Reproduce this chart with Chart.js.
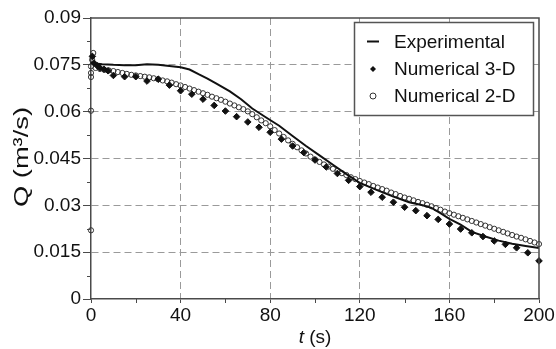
<!DOCTYPE html>
<html>
<head>
<meta charset="utf-8">
<script src="https://cdn.jsdelivr.net/npm/chart.js@4"></script>
<style>
html, body { margin: 0; padding: 0; background: #fff; }
</style>
</head>
<body>
<canvas id="chart" width="556" height="349"></canvas>
<script>
// axis ticks
const xTicks = [0, 40, 80, 120, 160, 200];
const xTickLabels = ['0', '40', '80', '120', '160', '200'];
const yTicks = [0, 0.015, 0.03, 0.045, 0.06, 0.075, 0.09];
const yTickLabels = ['0', '0.015', '0.03', '0.045', '0.06', '0.075', '0.09'];
const xMinor = [20, 60, 100, 140, 180];
const yMinor = [0.0075, 0.0225, 0.0375, 0.0525, 0.0675, 0.0825];

// Experimental (solid line)
const expT = [0, 5, 10, 15, 20, 25, 30, 35, 40, 44, 48, 52, 56, 62, 67, 72, 78, 84, 90, 96,
  102, 108, 114, 120, 128, 135, 142, 148, 152, 156, 160, 165, 170, 176, 182, 188, 194, 200];
const expQ = [0.0756, 0.0752, 0.0750, 0.0749, 0.0749, 0.0752, 0.0750, 0.0746, 0.0742, 0.0735,
  0.0720, 0.0706, 0.0690, 0.0665, 0.0640, 0.0610, 0.0582, 0.0555, 0.0522, 0.0490,
  0.0460, 0.0430, 0.0400, 0.0372, 0.0348, 0.0328, 0.0310, 0.0300, 0.0292, 0.0275,
  0.0257, 0.0238, 0.0215, 0.0200, 0.0187, 0.0177, 0.0170, 0.0163];

// Numerical 3-D (filled diamonds)
const d3T = [0.6, 1.3, 2.8, 4, 5.8, 7.6, 10, 15, 20, 25, 30, 35, 40, 45, 50, 55, 60, 65, 70, 75,
  80, 85, 90, 95, 100, 105, 110, 115, 120, 125, 130, 135, 140, 145, 150, 155, 160, 165,
  170, 175, 180, 185, 190, 195, 200];
const d3Q = [0.0777, 0.0756, 0.0747, 0.0740, 0.0736, 0.0731, 0.0716, 0.0712, 0.0712, 0.0698,
  0.0704, 0.0685, 0.0667, 0.0656, 0.0640, 0.0620, 0.0602, 0.0584, 0.0567, 0.0550,
  0.0534, 0.0512, 0.0490, 0.0469, 0.0445, 0.0423, 0.0402, 0.0380, 0.0360, 0.0342,
  0.0326, 0.0310, 0.0294, 0.0283, 0.0267, 0.0255, 0.0240, 0.0224, 0.0212, 0.0200,
  0.0186, 0.0175, 0.0164, 0.0148, 0.0122];

// Numerical 2-D (open circles)
const d2T = [0, 0, 0, 0.5, 1, 0, 0,
  2, 4, 6, 8, 10, 12, 14, 16, 18, 20, 22, 24, 26, 28, 30, 32, 34, 36, 38, 40,
  42, 44, 46, 48, 50, 52, 54, 56, 58, 60, 62, 64, 66, 68, 70, 72, 74, 76, 78, 80,
  82, 84, 86, 88, 90, 92, 94, 96, 98, 100, 102, 104, 106, 108, 110, 112, 114, 116, 118, 120,
  122, 124, 126, 128, 130, 132, 134, 136, 138, 140, 142, 144, 146, 148, 150, 152, 154, 156, 158, 160,
  162, 164, 166, 168, 170, 172, 174, 176, 178, 180, 182, 184, 186, 188, 190, 192, 194, 196, 198, 200];
const d2Q = [0.0745, 0.0724, 0.0711, 0.0766, 0.0788, 0.0603, 0.0220,
  0.0740, 0.0737, 0.0734, 0.0732, 0.0730, 0.0727, 0.0724, 0.0721, 0.0718, 0.0716,
  0.0714, 0.0712, 0.0710, 0.0707, 0.0704, 0.0700, 0.0697, 0.0693, 0.0688, 0.0684,
  0.0679, 0.0674, 0.0669, 0.0664, 0.0659, 0.0654, 0.0648, 0.0643, 0.0638, 0.0632,
  0.0626, 0.0620, 0.0614, 0.0608, 0.0601, 0.0592, 0.0582, 0.0572, 0.0563, 0.0553,
  0.0541, 0.0530, 0.0519, 0.0508, 0.0497, 0.0486, 0.0476, 0.0466, 0.0456, 0.0447,
  0.0439, 0.0431, 0.0424, 0.0417, 0.0410, 0.0403, 0.0397, 0.0390, 0.0384, 0.0378,
  0.0373, 0.0368, 0.0362, 0.0357, 0.0352, 0.0347, 0.0341, 0.0336, 0.0330, 0.0325,
  0.0321, 0.0316, 0.0311, 0.0307, 0.0302, 0.0297, 0.0291, 0.0286, 0.0280, 0.0275,
  0.0270, 0.0265, 0.0260, 0.0255, 0.0250, 0.0245, 0.0240, 0.0235, 0.0230, 0.0225,
  0.0220, 0.0215, 0.0210, 0.0205, 0.0200, 0.0196, 0.0191, 0.0186, 0.0181, 0.0176];

const legendLabels = ['Experimental', 'Numerical 3-D', 'Numerical 2-D'];

const FONT = "'Liberation Sans', Arial, sans-serif";
const AXIS = '#4a4a4a';
const TEXT = '#111';

function pairs(ts, qs) {
  return ts.map((t, i) => ({ x: t, y: qs[i] }));
}

// frame, minor ticks, legend box and axis titles
const decorations = {
  id: 'decorations',
  afterDraw(chart) {
    const ctx = chart.ctx;
    const a = chart.chartArea;
    const xs = chart.scales.x;
    const ys = chart.scales.y;
    ctx.save();

    // top and right border
    ctx.strokeStyle = AXIS;
    ctx.lineWidth = 1.5;
    ctx.beginPath();
    ctx.moveTo(a.left, a.top);
    ctx.lineTo(a.right, a.top);
    ctx.lineTo(a.right, a.bottom);
    ctx.stroke();

    // minor ticks
    ctx.lineWidth = 1;
    ctx.beginPath();
    xMinor.forEach(v => {
      const px = Math.round(xs.getPixelForValue(v)) + 0.5;
      ctx.moveTo(px, a.bottom);
      ctx.lineTo(px, a.bottom + 4);
    });
    yMinor.forEach(v => {
      const py = Math.round(ys.getPixelForValue(v)) + 0.5;
      ctx.moveTo(a.left - 4, py);
      ctx.lineTo(a.left, py);
    });
    ctx.stroke();

    // legend
    const bx = 354.5, by = 22.5, bw = 179, bh = 93;
    ctx.fillStyle = '#fff';
    ctx.fillRect(bx, by, bw, bh);
    ctx.strokeStyle = '#555';
    ctx.lineWidth = 1.5;
    ctx.strokeRect(bx, by, bw, bh);

    const rows = [41.5, 69, 96];
    ctx.strokeStyle = TEXT;
    ctx.lineWidth = 2;
    ctx.beginPath();
    ctx.moveTo(367, rows[0]);
    ctx.lineTo(379, rows[0]);
    ctx.stroke();

    ctx.fillStyle = TEXT;
    ctx.beginPath();
    ctx.moveTo(373, rows[1] - 3);
    ctx.lineTo(376, rows[1]);
    ctx.lineTo(373, rows[1] + 3);
    ctx.lineTo(370, rows[1]);
    ctx.closePath();
    ctx.fill();

    ctx.strokeStyle = '#333';
    ctx.lineWidth = 1;
    ctx.beginPath();
    ctx.arc(373, rows[2], 3, 0, Math.PI * 2);
    ctx.stroke();

    ctx.font = '19px ' + FONT;
    ctx.fillStyle = TEXT;
    ctx.textAlign = 'left';
    ctx.textBaseline = 'middle';
    legendLabels.forEach((txt, i) => ctx.fillText(txt, 394, rows[i] + 1));

    // x title: italic t
    const t1 = 't';
    const t2 = ' (s)';
    ctx.font = 'italic 19px ' + FONT;
    const w1 = ctx.measureText(t1).width;
    ctx.font = '19px ' + FONT;
    const w2 = ctx.measureText(t2).width;
    const cx = (a.left + a.right) / 2;
    const sx = cx - (w1 + w2) / 2;
    ctx.textBaseline = 'middle';
    ctx.font = 'italic 19px ' + FONT;
    ctx.fillText(t1, sx, 338);
    ctx.font = '19px ' + FONT;
    ctx.fillText(t2, sx + w1, 338);

    // y title, slightly stretched like the original
    ctx.translate(22, 157);
    ctx.rotate(-Math.PI / 2);
    ctx.scale(1.3, 1);
    ctx.font = '21px ' + FONT;
    ctx.textAlign = 'center';
    ctx.fillText('Q (m\u00b3/s)', 0, 0);

    ctx.restore();
  }
};

const gridColor = (ends) => ctx =>
  (ctx.tick && ends.includes(ctx.tick.value)) ? 'rgba(0,0,0,0)' : '#9a9a9a';

new Chart(document.getElementById('chart'), {
  type: 'scatter',
  data: {
    datasets: [
      {
        label: legendLabels[0],
        data: pairs(expT, expQ),
        showLine: true,
        borderColor: TEXT,
        borderWidth: 2,
        pointRadius: 0,
        tension: 0,
        clip: false
      },
      {
        label: legendLabels[1],
        data: pairs(d3T, d3Q),
        pointStyle: 'rectRot',
        pointRadius: 3.3,
        backgroundColor: TEXT,
        borderColor: TEXT,
        borderWidth: 1,
        clip: false
      },
      {
        label: legendLabels[2],
        data: pairs(d2T, d2Q),
        pointStyle: 'circle',
        pointRadius: 2.6,
        backgroundColor: 'rgba(255,255,255,0)',
        borderColor: '#333',
        borderWidth: 1,
        clip: false
      }
    ]
  },
  options: {
    responsive: false,
    animation: false,
    devicePixelRatio: 1,
    layout: { padding: { top: 18, right: 17, left: 0, bottom: 0 } },
    plugins: {
      legend: { display: false },
      tooltip: { enabled: false }
    },
    scales: {
      x: {
        type: 'linear',
        min: 0,
        max: 200,
        afterBuildTicks: s => { s.ticks = xTicks.map(v => ({ value: v })); },
        afterFit: s => { s.height = 50; },
        ticks: {
          callback: (v, i) => xTickLabels[i],
          font: { family: FONT, size: 19 },
          color: TEXT,
          padding: 1,
          maxRotation: 0,
          autoSkip: false
        },
        grid: {
          color: gridColor([0, 200]),
          lineWidth: 1,
          tickLength: 4,
          tickColor: AXIS,
          tickBorderDash: [],
          tickWidth: 1
        },
        border: { color: AXIS, width: 1.5, dash: [7, 4] }
      },
      y: {
        min: 0,
        max: 0.09,
        afterBuildTicks: s => { s.ticks = yTicks.map(v => ({ value: v })); },
        afterFit: s => { s.width = 91; },
        ticks: {
          callback: (v, i) => yTickLabels[i],
          font: { family: FONT, size: 19 },
          color: TEXT,
          padding: 2
        },
        grid: {
          color: gridColor([0, 0.09]),
          lineWidth: 1,
          tickLength: 8,
          tickColor: AXIS,
          tickBorderDash: [],
          tickWidth: 1
        },
        border: { color: AXIS, width: 1.5, dash: [7, 4] }
      }
    }
  },
  plugins: [decorations]
});
</script>
</body>
</html>
